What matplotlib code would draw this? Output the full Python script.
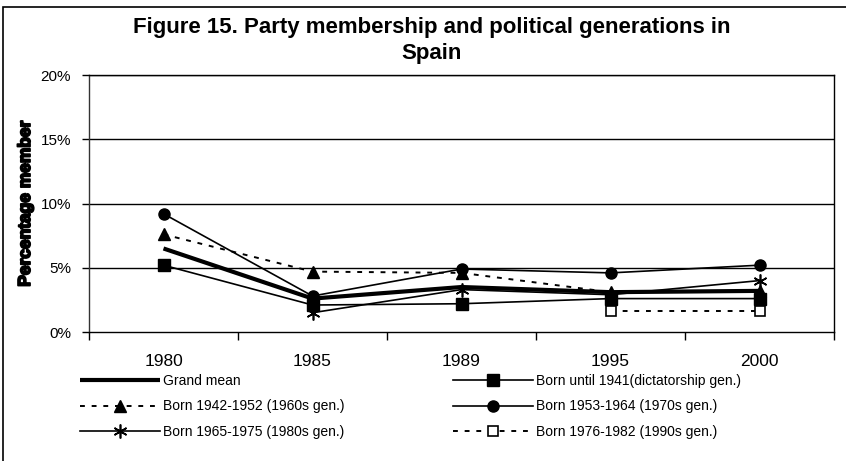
import matplotlib
matplotlib.use("Agg")
import matplotlib.pyplot as plt
from matplotlib.patches import Rectangle
import matplotlib.patheffects as pe
import numpy as np

plt.rcParams['font.family'] = ['Liberation Sans', 'DejaVu Sans']

years = ["1980", "1985", "1989", "1995", "2000"]
grand_mean = [6.5, 2.6, 3.5, 3.1, 3.2]
dictatorship = [5.2, 2.1, 2.2, 2.6, 2.6]
gen_1960s = [7.6, 4.7, 4.6, 3.1, 3.2]
gen_1970s = [9.2, 2.8, 4.9, 4.6, 5.2]
gen_1980s = [np.nan, 1.5, 3.3, 2.9, 4.0]
gen_1990s = [np.nan, np.nan, np.nan, 1.6, 1.6]

yticks = [0, 5, 10, 15, 20]
ytick_labels = ["0%", "5%", "10%", "15%", "20%"]

W, H = 846, 461
fig = plt.figure(figsize=(W / 100, H / 100), dpi=100)
ax = fig.add_axes([89 / W, 1 - 332 / H, (834 - 89) / W, (332 - 75) / H])

x = np.arange(len(years))
dots = (0, (2.5, 3.5))

ax.plot(x, grand_mean, color='black', lw=3, solid_capstyle='butt', label='Grand mean', zorder=5)
ax.plot(x, dictatorship, color='black', lw=1.2, marker='s', ms=8, mfc='black', mec='black',
        label='Born until 1941(dictatorship gen.)', zorder=4)
ax.plot(x, gen_1960s, color='black', lw=1.4, ls=dots, marker='^', ms=9, mfc='black', mec='black',
        label='Born 1942-1952 (1960s gen.)', zorder=4)
ax.plot(x, gen_1970s, color='black', lw=1.2, marker='o', ms=8, mfc='black', mec='black',
        label='Born 1953-1964 (1970s gen.)', zorder=4)
ax.plot(x, gen_1980s, color='black', lw=1.2, marker=(6, 2, 0), ms=10, mew=1.2, mec='black',
        label='Born 1965-1975 (1980s gen.)', zorder=4)
ax.plot(x, gen_1990s, color='black', lw=1.4, ls=dots, marker='s', ms=7, mfc='white', mec='black', mew=1.2,
        label='Born 1976-1982 (1990s gen.)', zorder=4)

ax.set_xlim(-0.5, len(years) - 0.5)
ax.set_ylim(0, 20)
ax.set_yticks(yticks)
ax.set_yticklabels(ytick_labels, fontsize=11)
ax.set_xticks(x)
ax.set_xticklabels(years, fontsize=12.5)
ax.set_xticks(np.arange(-0.5, len(years), 1.0), minor=True)
ax.tick_params(axis='x', which='major', length=0, pad=16)
ax.tick_params(axis='x', which='minor', length=6, width=1, direction='out')
ax.tick_params(axis='y', which='major', length=5, width=1, direction='out', pad=8)
for y in yticks[1:]:
    ax.axhline(y, color='black', lw=1, zorder=1)
for s in ax.spines.values():
    s.set_linewidth(1)
    s.set_color('black')
ax.spines['left'].set_color('#333333')

ylab = ax.set_ylabel('Percentage member', fontsize=12.5, fontweight='heavy')
ylab.set_path_effects([pe.withStroke(linewidth=1.3, foreground='black')])
ax.yaxis.set_label_coords((33 - 89) / (834 - 89), 0.5)

fig.text(432 / W, 1 - 27 / H, 'Figure 15. Party membership and political generations in',
         ha='center', va='center', fontsize=16, fontweight='bold')
fig.text(432 / W, 1 - 53 / H, 'Spain', ha='center', va='center', fontsize=16, fontweight='bold')

h = {l.get_label(): l for l in ax.get_lines()}
col1 = ['Grand mean', 'Born 1942-1952 (1960s gen.)', 'Born 1965-1975 (1980s gen.)']
col2 = ['Born until 1941(dictatorship gen.)', 'Born 1953-1964 (1970s gen.)', 'Born 1976-1982 (1990s gen.)']
for names, x0 in ((col1, 80), (col2, 453)):
    fig.legend([h[k] for k in names], names, ncol=1, loc='upper left',
               bbox_to_anchor=(x0 / W, 1 - 374 / H), frameon=False, fontsize=10,
               handlelength=5.75, handletextpad=0.2, labelspacing=0.82,
               borderaxespad=0, borderpad=0)

fig.patches.append(Rectangle((3 / W, -0.1), 1.1, 1.1 - 7 / H, transform=fig.transFigure,
                             fill=False, edgecolor='black', lw=1.2))

fig.savefig('out.png', dpi=100)
